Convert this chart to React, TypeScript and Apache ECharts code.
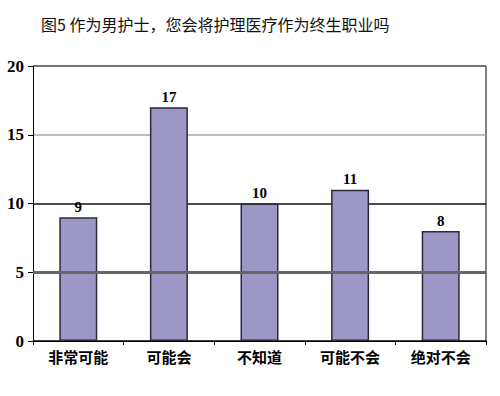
import React, { useEffect, useRef } from "react";
import * as echarts from "echarts";

const titleText = "图5 作为男护士，您会将护理医疗作为终生职业吗";
const categories = ["非常可能", "可能会", "不知道", "可能不会", "绝对不会"];
const values = [9, 17, 10, 11, 8];
const yTicks = [0, 5, 10, 15, 20];
const emphasisLine = 5;

export default function App() {
  const ref = useRef<HTMLDivElement>(null);
  useEffect(() => {
    document.body.style.margin = "0";
    const chart = echarts.init(ref.current!, null, { renderer: "svg" });
    chart.setOption({
      animation: false,
      backgroundColor: "#ffffff",
      title: {
        text: titleText,
        left: 36,
        top: 11,
        textStyle: {
          fontFamily: "Noto Sans CJK SC",
          fontSize: 16,
          fontWeight: "normal",
          color: "#111",
        },
      },
      grid: { left: 33, right: 14, top: 66, bottom: 55, show: false },
      xAxis: {
        type: "category",
        data: categories,
        axisLine: { lineStyle: { color: "#000", width: 1 } },
        axisTick: { show: true, length: 4, lineStyle: { color: "#000" } },
        axisLabel: {
          color: "#000",
          fontFamily: "Noto Sans CJK SC",
          fontWeight: "bold",
          fontSize: 15,
          margin: 8,
        },
      },
      yAxis: {
        type: "value",
        min: yTicks[0],
        max: yTicks[yTicks.length - 1],
        interval: 5,
        axisLine: { show: true, lineStyle: { color: "#000", width: 1 } },
        axisTick: { show: true, length: 5, lineStyle: { color: "#000" } },
        axisLabel: {
          color: "#000",
          fontFamily: "Liberation Serif",
          fontWeight: "bold",
          fontSize: 17,
          margin: 9,
        },
        splitLine: {
          show: true,
          lineStyle: {
            color: ["#000", "#555", "#111", "#aaa", "#444"],
            width: 1.5,
          },
        },
      },
      graphic: [
        {
          type: "line",
          shape: { x1: 486, y1: 66, x2: 486, y2: 341 },
          style: { stroke: "#555", lineWidth: 1.5 },
        },
      ],
      series: [
        {
          type: "line",
          data: [],
          z: 1,
          silent: true,
          markLine: {
            symbol: "none",
            silent: true,
            label: { show: false },
            lineStyle: { color: "#666", width: 3, type: "solid" },
            data: [{ yAxis: emphasisLine }],
          },
        },
        {
          type: "bar",
          data: values,
          barWidth: 38,
          z: 3,
          itemStyle: {
            color: "#9d97c6",
            borderColor: "#2a2a3a",
            borderWidth: 1.5,
          },
          label: {
            show: true,
            position: "top",
            distance: 3,
            color: "#000",
            fontFamily: "Liberation Serif",
            fontWeight: "bold",
            fontSize: 15,
          },
        },
      ],
    });
    return () => chart.dispose();
  }, []);
  return (
    <div
      ref={ref}
      style={{ position: "absolute", left: 0, top: 0, width: 500, height: 396 }}
    />
  );
}
